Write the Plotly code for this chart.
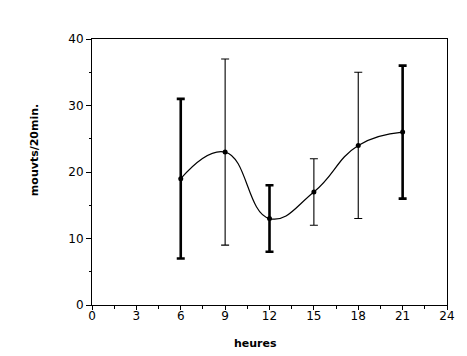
import plotly.graph_objects as go

hours = [6, 9, 12, 15, 18, 21]
means = [19, 23, 13, 17, 24, 26]
upper = [31, 37, 18, 22, 35, 36]
lower = [7, 9, 8, 12, 13, 16]
thick_idx = [0, 2, 5]
thin_idx = [1, 3, 4]

x_ticks = [0, 3, 6, 9, 12, 15, 18, 21, 24]
y_ticks = [0, 10, 20, 30, 40]

fig = go.Figure()

# smooth curve through the means
fig.add_trace(go.Scatter(
    x=hours, y=means, mode="lines",
    line=dict(color="black", width=1.2, shape="spline", smoothing=1.3),
    hoverinfo="skip", showlegend=False))

def err_trace(idx, thick):
    xs = [hours[i] for i in idx]
    ys = [means[i] for i in idx]
    up = [upper[i] - means[i] for i in idx]
    dn = [means[i] - lower[i] for i in idx]
    return go.Scatter(
        x=xs, y=ys, mode="markers",
        marker=dict(color="black", size=5),
        error_y=dict(type="data", array=up, arrayminus=dn, symmetric=False,
                     color="black", thickness=thick, width=4),
        showlegend=False)

fig.add_trace(err_trace(thick_idx, 2.6))
fig.add_trace(err_trace(thin_idx, 1.1))

fig.update_layout(
    width=467, height=356,
    margin=dict(l=92, r=13, t=39, b=51),
    paper_bgcolor="white", plot_bgcolor="white",
    font=dict(family="DejaVu Sans", size=12, color="black"),
    xaxis=dict(range=[0, 24], tickvals=x_ticks, ticktext=[str(v) for v in x_ticks],
               showgrid=False, zeroline=False, showline=True, linecolor="black",
               linewidth=1, mirror=True, ticks="outside", ticklen=4, tickcolor="black",
               minor=dict(dtick=1.5, ticks="outside", ticklen=3, tickcolor="black"),
               tickfont=dict(size=12), ticklabelstandoff=-4),
    yaxis=dict(range=[0, 40], tickvals=y_ticks, ticktext=[str(v) for v in y_ticks],
               showgrid=False, zeroline=False, showline=True, linecolor="black",
               linewidth=1, mirror=True, ticks="outside", ticklen=5, tickcolor="black",
               minor=dict(dtick=5, ticks="outside", ticklen=2, tickcolor="black"),
               tickfont=dict(size=12)),
    annotations=[
        dict(text="<b>heures</b>", xref="paper", yref="paper", x=(259 - 92) / 362,
             y=-38 / 266, xanchor="center", yanchor="middle", showarrow=False,
             font=dict(size=11, family="DejaVu Sans")),
        dict(text="<b>mouvts/20min.</b>", xref="paper", yref="paper", x=-(92 - 33) / 362,
             y=(305 - 150) / 266, xanchor="center", yanchor="middle", showarrow=False,
             textangle=-90, font=dict(size=11, family="DejaVu Sans")),
    ],
)

fig.write_html("out.html", config={"displayModeBar": False},
               post_script="document.body.style.margin='0';document.body.style.overflow='hidden';")
